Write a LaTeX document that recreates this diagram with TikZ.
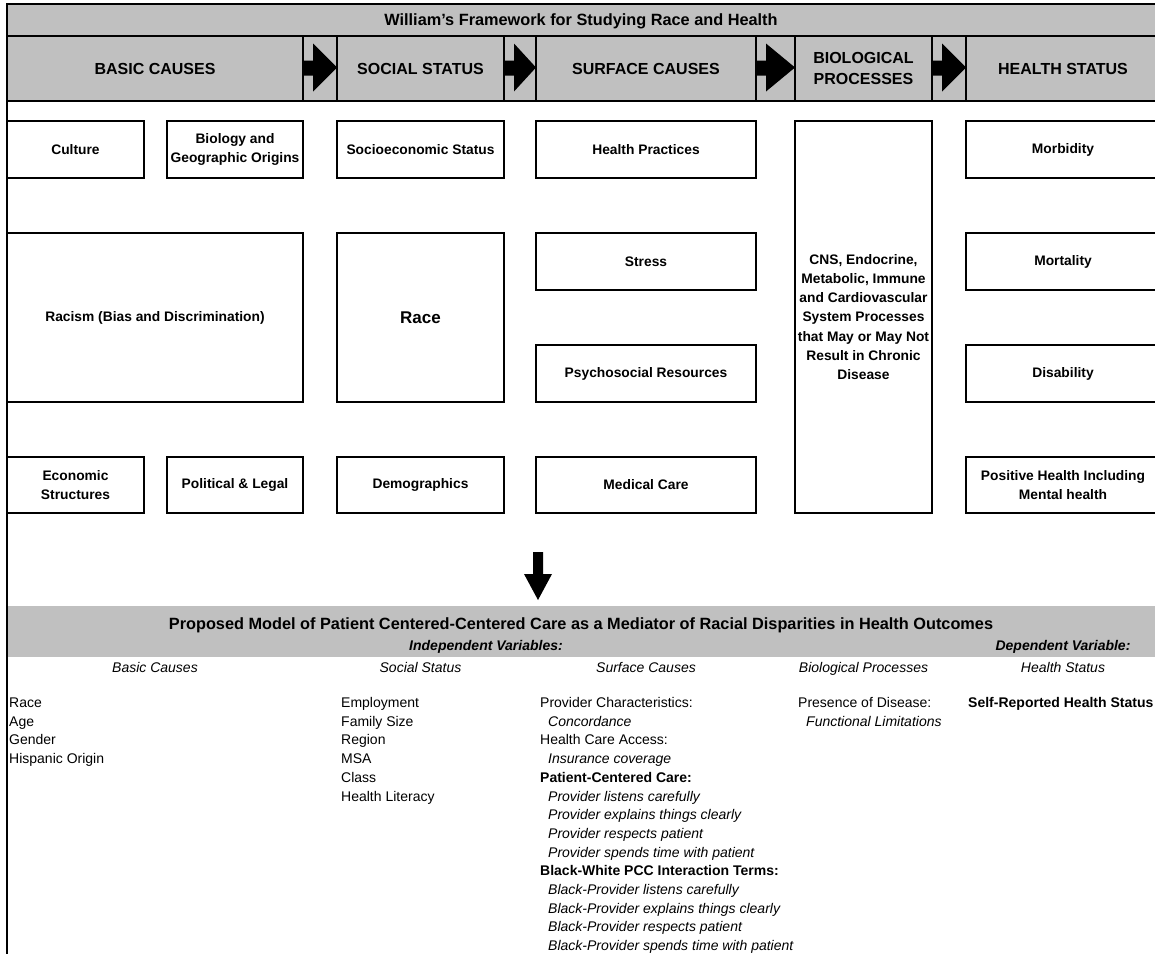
\documentclass[tikz,border=0pt]{standalone}
\usepackage{fontspec}
\setmainfont{Liberation Sans}
\definecolor{bandgray}{HTML}{C0C0C0}
\newcommand{\ind}[1]{\hspace*{8pt}\textit{#1}}
\newcommand{\Lcol}[4]{%
  \foreach \t [count=\i from 0] in {#4} {\node[listtxt] (#1\i) at (#2,{#3+18.7*\i}) {\t};}}
\begin{document}
\begin{tikzpicture}[x=1pt,y=-1pt,
  frame/.style={line width=1.8pt},
  box/.style={draw=black, line width=1.7pt, inner sep=0pt, align=center,
     font=\fontsize{13.8}{19.3}\selectfont\bfseries},
  hdr/.style={inner sep=0pt, align=center, font=\fontsize{16}{21}\selectfont\bfseries},
  ttl/.style={inner sep=0pt, anchor=base, font=\fontsize{16.3}{20}\selectfont\bfseries},
  sub/.style={inner sep=0pt, anchor=base, font=\fontsize{14}{18}\selectfont\itshape},
  subb/.style={inner sep=0pt, anchor=base, font=\fontsize{14}{18}\selectfont\bfseries\itshape},
  listtxt/.style={inner sep=0pt, anchor=base west, font=\fontsize{14}{18}\selectfont}]
\useasboundingbox (0,0) rectangle (1155,953);
\clip (0,0) rectangle (1155,953);
\fill[white] (0,0) rectangle (1155,953);

% ---- header bands
\draw[frame, fill=bandgray] (7,4) rectangle (1165,36);
\draw[frame, fill=bandgray] (7,36) rectangle (1165,101);
\foreach \x in {303,337,504,536,756,795,932,966} \draw[frame] (\x,36) -- (\x,101);
\foreach \a/\b in {303/337,504/536,756/795,932/966}
  \fill (\a,60.5) -- ({\a+10},60.5) -- ({\a+10},43.5) -- (\b,67.5) -- ({\a+10},91.5) -- ({\a+10},75.5) -- (\a,75.5) -- cycle;

\node[ttl] (title) at (581,25.5) {William's Framework for Studying Race and Health};
\node[hdr] (hbasic) at (155,68.5) {BASIC CAUSES};
\node[hdr] (hsocial) at (420.5,68.5) {SOCIAL STATUS};
\node[hdr] (hsurface) at (646,68.5) {SURFACE CAUSES};
\node[hdr] (hbio) at (863.5,68.5) {BIOLOGICAL\\PROCESSES};
\node[hdr] (hhealth) at (1063,68.5) {HEALTH STATUS};

% ---- boxes
\node[box, minimum width=137, minimum height=57] (culture) at (75.5,149.5) {Culture};
\node[box, minimum width=136, minimum height=57] (biology) at (235,149.5) {Biology and\\Geographic Origins};
\node[box, minimum width=167, minimum height=57] (ses) at (420.5,149.5) {Socioeconomic Status};
\node[box, minimum width=220, minimum height=57] (practices) at (646,149.5) {Health Practices};
\node[box, minimum width=137, minimum height=392] (cns) at (863.5,317) {CNS, Endocrine,\\Metabolic, Immune\\and Cardiovascular\\System Processes\\that May or May Not\\Result in Chronic\\Disease};
\node[box, minimum width=194, minimum height=57] (morbidity) at (1063,149.5) {Morbidity};

\node[box, minimum width=296, minimum height=169] (racism) at (155,317.5) {Racism (Bias and Discrimination)};
\node[box, minimum width=167, minimum height=169, font=\fontsize{17}{20}\selectfont\bfseries] (race) at (420.5,317.5) {Race};
\node[box, minimum width=220, minimum height=57] (stress) at (646,261.5) {Stress};
\node[box, minimum width=194, minimum height=57] (mortality) at (1063,261.5) {Mortality};
\node[box, minimum width=220, minimum height=57] (psycho) at (646,373.5) {Psychosocial Resources};
\node[box, minimum width=194, minimum height=57] (disability) at (1063,373.5) {Disability};

\node[box, minimum width=137, minimum height=56] (economic) at (75.5,485) {Economic\\Structures};
\node[box, minimum width=136, minimum height=56] (political) at (235,485) {Political \& Legal};
\node[box, minimum width=167, minimum height=56] (demo) at (420.5,485) {Demographics};
\node[box, minimum width=220, minimum height=56] (medical) at (646,485) {Medical Care};
\node[box, minimum width=194, minimum height=56] (positive) at (1063,485) {Positive Health Including\\Mental health};

% ---- down arrow
\fill (533,552) -- (543,552) -- (543,574) -- (552,574) -- (538,600) -- (524,574) -- (533,574) -- cycle;

% ---- lower band
\fill[bandgray] (7,606) rectangle (1165,657);
\node[ttl] (ptitle) at (581,629) {Proposed Model of Patient Centered-Centered Care as a Mediator of Racial Disparities in Health Outcomes};
\node[subb] (indep) at (486,650.5) {Independent Variables:};
\node[subb] (dep) at (1063,650.5) {Dependent Variable:};
\node[sub] (sbasic) at (155,672) {Basic Causes};
\node[sub] (ssocial) at (420.5,672) {Social Status};
\node[sub] (ssurface) at (646,672) {Surface Causes};
\node[sub] (sbio) at (863.5,672) {Biological Processes};
\node[sub] (shealth) at (1063,672) {Health Status};

% ---- lists
\Lcol{la}{9}{707.5}{Race,Age,Gender,Hispanic Origin}
\Lcol{lb}{341}{707.5}{Employment,Family Size,Region,MSA,Class,Health Literacy}
\Lcol{lc}{540}{707.5}{Provider Characteristics:,\ind{Concordance},Health Care Access:,\ind{Insurance coverage},\textbf{Patient-Centered Care:},\ind{Provider listens carefully},\ind{Provider explains things clearly},\ind{Provider respects patient},\ind{Provider spends time with patient},\textbf{Black-White PCC Interaction Terms:},\ind{Black-Provider listens carefully},\ind{Black-Provider explains things clearly},\ind{Black-Provider respects patient},\ind{Black-Provider spends time with patient}}
\Lcol{ld}{798}{707.5}{Presence of Disease:,\ind{Functional Limitations}}
\Lcol{le}{968}{707.5}{\textbf{Self-Reported Health Status}}

% ---- outer left frame line
\draw[frame] (7,4) -- (7,960);
\end{tikzpicture}
\end{document}
